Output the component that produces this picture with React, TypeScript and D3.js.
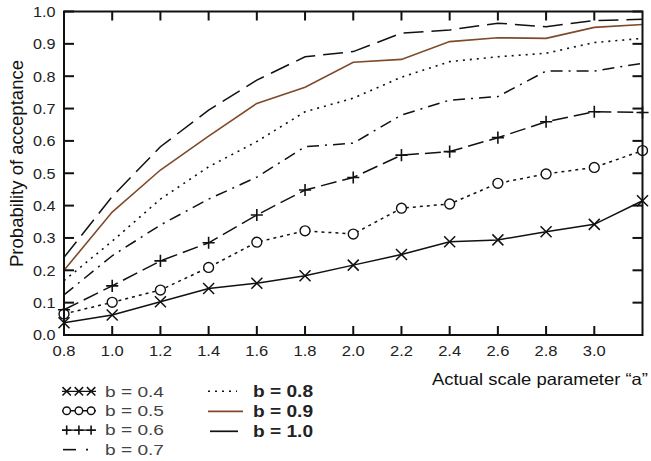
import React from "react";
import * as d3 from "d3";

const xs = [0.8, 1.0, 1.2, 1.4, 1.6, 1.8, 2.0, 2.2, 2.4, 2.6, 2.8, 3.0, 3.2];
const b04 = [0.038, 0.062, 0.103, 0.144, 0.16, 0.183, 0.216, 0.249, 0.288, 0.294, 0.319, 0.342, 0.415];
const b05 = [0.065, 0.101, 0.139, 0.209, 0.287, 0.322, 0.312, 0.392, 0.405, 0.469, 0.498, 0.518, 0.57];
const b06 = [0.078, 0.152, 0.229, 0.285, 0.371, 0.448, 0.487, 0.556, 0.567, 0.61, 0.659, 0.69, 0.688];
const b07 = [0.124, 0.245, 0.34, 0.42, 0.488, 0.582, 0.593, 0.68, 0.726, 0.737, 0.816, 0.816, 0.84];
const b08 = [0.168, 0.29, 0.42, 0.52, 0.598, 0.69, 0.732, 0.797, 0.845, 0.86, 0.871, 0.904, 0.917];
const b09 = [0.2, 0.38, 0.51, 0.615, 0.716, 0.766, 0.843, 0.852, 0.907, 0.919, 0.917, 0.951, 0.96];
const b10 = [0.24, 0.428, 0.582, 0.695, 0.788, 0.86, 0.876, 0.933, 0.943, 0.964, 0.953, 0.972, 0.976];

const xTickValues = [0.8, 1.0, 1.2, 1.4, 1.6, 1.8, 2.0, 2.2, 2.4, 2.6, 2.8, 3.0];
const yTickValues = [0.0, 0.1, 0.2, 0.3, 0.4, 0.5, 0.6, 0.7, 0.8, 0.9, 1.0];
const xTitle = "Actual scale parameter \u201ca\u201d";
const yTitle = "Probability of acceptance";

type Marker = "x" | "o" | "+" | null;
interface Series { label: string; values: number[]; color: string; dash: string | null; width: number; marker: Marker; }

const series: Series[] = [
  { label: "b = 0.4", values: b04, color: "#111", dash: null, width: 1.5, marker: "x" },
  { label: "b = 0.5", values: b05, color: "#111", dash: "3,4", width: 1.5, marker: "o" },
  { label: "b = 0.6", values: b06, color: "#111", dash: "16,6", width: 1.5, marker: "+" },
  { label: "b = 0.7", values: b07, color: "#111", dash: "12,6,2,6", width: 1.5, marker: null },
  { label: "b = 0.8", values: b08, color: "#111", dash: "2,5", width: 1.6, marker: null },
  { label: "b = 0.9", values: b09, color: "#7f4a2a", dash: null, width: 1.6, marker: null },
  { label: "b = 1.0", values: b10, color: "#111", dash: "20,8", width: 1.5, marker: null },
];

const FONT = "'Liberation Sans', Arial, sans-serif";
const L = 64, R = 642.5, T = 11.5, B = 335;

function MarkerShape({ kind, x, y, s = 5.5 }: { kind: Marker; x: number; y: number; s?: number }) {
  if (kind === "x") {
    return <path d={`M${x - s},${y - s}L${x + s},${y + s}M${x - s},${y + s}L${x + s},${y - s}`} stroke="#111" strokeWidth={1.5} fill="none" />;
  }
  if (kind === "+") {
    const p = s * 1.1;
    return <path d={`M${x - p},${y}L${x + p},${y}M${x},${y - p}L${x},${y + p}`} stroke="#111" strokeWidth={1.6} fill="none" />;
  }
  if (kind === "o") {
    return <circle cx={x} cy={y} r={s * 0.9} stroke="#111" strokeWidth={1.4} fill="white" />;
  }
  return null;
}

export default function App() {
  const x = d3.scaleLinear().domain([0.8, 3.2]).range([L, R]);
  const y = d3.scaleLinear().domain([0, 1]).range([B, T]);
  const line = d3.line<number>().x((_, i) => x(xs[i])).y((d) => y(d));
  const tickLen = 9;

  const legendLeft = series.slice(0, 4);
  const legendRight = series.slice(4);

  return (
    <svg width={651} height={461} style={{ position: "absolute", left: 0, top: 0, background: "#fff" }} fontFamily={FONT}>
      <rect width={651} height={461} fill="#fff" />
      {series.map((s) => (
        <g key={s.label}>
          <path d={line(s.values) || ""} fill="none" stroke={s.color} strokeWidth={s.width} strokeDasharray={s.dash || undefined} />
          {s.marker && s.values.map((v, i) => <MarkerShape key={i} kind={s.marker} x={x(xs[i])} y={y(v)} />)}
        </g>
      ))}
      {xTickValues.map((t) => (
        <g key={"xt" + t}>
          <line x1={x(t)} x2={x(t)} y1={B} y2={B - tickLen} stroke="#111" strokeWidth={2} />
          <line x1={x(t)} x2={x(t)} y1={T} y2={T + tickLen} stroke="#111" strokeWidth={2} />
          <text x={x(t)} y={B + 20.5} textAnchor="middle" fontSize={15} fill="#222" textLength={23} lengthAdjust="spacingAndGlyphs">{t.toFixed(1)}</text>
        </g>
      ))}
      {yTickValues.map((t) => (
        <g key={"yt" + t}>
          <line x1={L} x2={L + tickLen + 1} y1={y(t)} y2={y(t)} stroke="#111" strokeWidth={2} />
          <line x1={R} x2={R - tickLen - 1} y1={y(t)} y2={y(t)} stroke="#111" strokeWidth={2} />
          <text x={55.5} y={y(t)} dy="0.36em" textAnchor="end" fontSize={15} fill="#222" textLength={22.5} lengthAdjust="spacingAndGlyphs">{t.toFixed(1)}</text>
        </g>
      ))}
      <rect x={L} y={T} width={R - L} height={B - T} fill="none" stroke="#111" strokeWidth={2} />
      <text x={432} y={385} fontSize={16.5} fill="#111" textLength={216} lengthAdjust="spacingAndGlyphs">{xTitle}</text>
      <text transform={`translate(23,163.5) rotate(-90)`} textAnchor="middle" fontSize={19} fill="#111" textLength={207} lengthAdjust="spacingAndGlyphs">{yTitle}</text>
      {legendLeft.map((s, i) => {
        const ly = 391.3 + i * 19.45;
        const x0 = 62, x1 = 96;
        return (
          <g key={"ll" + i}>
            {s.marker ? (
              <>
                <line x1={x0} x2={x1} y1={ly} y2={ly} stroke="#111" strokeWidth={1.3} />
                {[0, 1, 2].map((k) => (
                  <MarkerShape key={k} kind={s.marker} x={66.7 + k * 12.2} y={ly} s={4.2} />
                ))}
              </>
            ) : (
              <>
                <line x1={63} x2={76} y1={ly} y2={ly} stroke="#111" strokeWidth={1.6} />
                <line x1={86} x2={88} y1={ly} y2={ly} stroke="#111" strokeWidth={1.6} />
              </>
            )}
            <text x={105} y={ly} dy="0.36em" fontSize={14.5} fill="#444" textLength={59} lengthAdjust="spacingAndGlyphs">{s.label}</text>
          </g>
        );
      })}
      {legendRight.map((s, i) => {
        const ly = 391.3 + i * 20;
        return (
          <g key={"lr" + i}>
            {i === 0 ? (
              <line x1={208} x2={237} y1={ly} y2={ly} stroke={s.color} strokeWidth={1.6} strokeDasharray="2,5" />
            ) : (
              <line x1={i === 1 ? 208 : 210} x2={i === 1 ? 243 : 238} y1={ly} y2={ly} stroke={s.color} strokeWidth={1.7} />
            )}
            <text x={253} y={ly} dy="0.36em" fontSize={16} fontWeight="bold" fill="#222" textLength={60} lengthAdjust="spacingAndGlyphs">{s.label}</text>
          </g>
        );
      })}
    </svg>
  );
}
